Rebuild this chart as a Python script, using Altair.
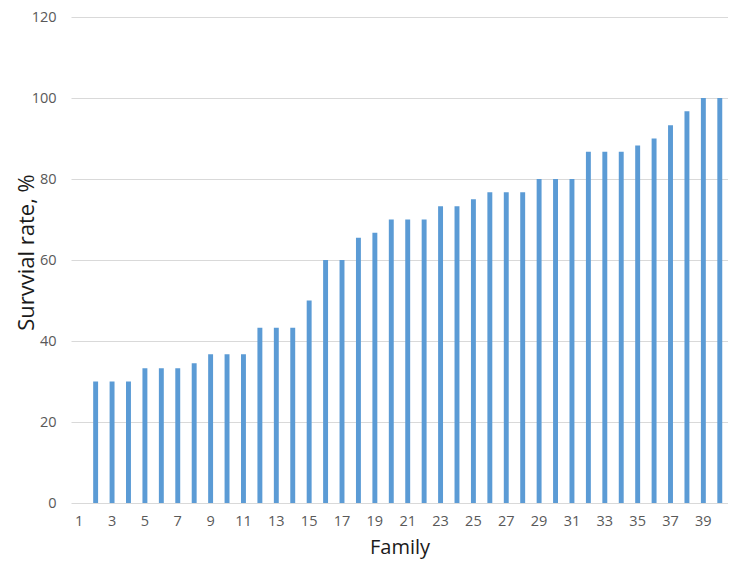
import altair as alt
import pandas as pd

families = list(range(1, 41))
survival = [None, 30, 30, 30, 33.3, 33.3, 33.3, 34.5, 36.7, 36.7,
            36.7, 43.3, 43.3, 43.3, 50, 60, 60, 65.5, 66.7, 70,
            70, 70, 73.3, 73.3, 75, 76.7, 76.7, 76.7, 80, 80,
            80, 86.7, 86.7, 86.7, 88.3, 90, 93.3, 96.7, 100, 100]
y_ticks = [0, 20, 40, 60, 80, 100, 120]
x_labels = [f for f in families if f % 2 == 1]

df = pd.DataFrame({"Family": families, "Survival": survival})

FONT = "Open Sans"

chart = alt.Chart(df).mark_bar(color="#5b9bd5").encode(
    x=alt.X("Family:O",
            scale=alt.Scale(domain=families, paddingInner=0.7, paddingOuter=0.35),
            axis=alt.Axis(values=x_labels, labelAngle=0, domain=False, ticks=False,
                          tickSize=0, labelPadding=11, labelFontSize=14.5,
                          labelColor="#595959", labelFont=FONT,
                          title="Family", titleFont=FONT, titleFontSize=20,
                          titleFontWeight="normal", titleColor="#1a1a1a",
                          titleBaseline="alphabetic", titleY=50)),
    y=alt.Y("Survival:Q",
            scale=alt.Scale(domain=[0, 120], nice=False),
            axis=alt.Axis(values=y_ticks, domain=False, ticks=False, tickSize=0,
                          labelPadding=15, labelFontSize=14.5, labelColor="#595959",
                          labelFont=FONT, gridColor="#d9d9d9", gridWidth=1,
                          title="Survvial rate, %", titleFont=FONT, titleFontSize=22,
                          titleFontWeight="normal", titleColor="#1a1a1a",
                          titleBaseline="middle", titleX=-45, titleY=235)),
).properties(
    width=657,
    height=486,
    autosize=alt.AutoSizeParams(type="none"),
    padding={"left": 63, "top": 9, "right": 0, "bottom": 60},
).configure_view(stroke=None)

chart.save("out.html", embed_options={"renderer": "svg", "actions": False})
